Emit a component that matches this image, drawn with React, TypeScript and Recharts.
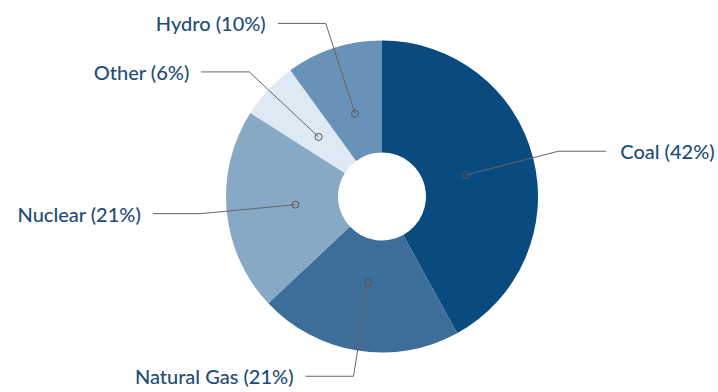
import { PieChart, Pie, Cell } from "recharts";

const sources = ["Coal", "Natural Gas", "Nuclear", "Other", "Hydro"];
const shares = [42, 21, 21, 6, 10];
const colors = ["#0a4b7f", "#3c6e99", "#88a9c5", "#dfe9f3", "#6892b8"];

const data = sources.map((name, i) => ({ name, value: shares[i] }));

const RADIAN = Math.PI / 180;

function renderLabel(props: any) {
  const { cx, cy, midAngle, index } = props;
  const cos = Math.cos(-midAngle * RADIAN);
  const sin = Math.sin(-midAngle * RADIAN);
  const dotR = 87;
  const elbowR = 182;
  const x0 = cx + dotR * cos;
  const y0 = cy + dotR * sin;
  const x1 = cx + elbowR * cos;
  const y1 = cy + elbowR * sin;
  const right = cos >= 0;
  const x2 = x1 + (right ? 48 : -48);
  const tx = x2 + (right ? 14 : -12);
  return (
    <g key={`lbl-${index}`}>
      <polyline
        points={`${x0},${y0} ${x1},${y1} ${x2},${y1}`}
        fill="none"
        stroke="#666"
        strokeWidth={1}
      />
      <circle cx={x0} cy={y0} r={3.5} fill="none" stroke="#555" strokeWidth={1} />
      <text
        x={tx}
        y={y1}
        textAnchor={right ? "start" : "end"}
        dominantBaseline="central"
        fill="#1f4d78"
        fontSize={20}
        fontWeight={500}
        fontFamily="Lato, sans-serif"
      >
        {`${sources[index]} (${shares[index]}%)`}
      </text>
    </g>
  );
}

export default function App() {
  return (
    <div style={{ position: "absolute", left: 0, top: 0, width: 718, height: 392, background: "#fff" }}>
      <PieChart width={718} height={392}>
        <Pie
          data={data}
          dataKey="value"
          cx={377}
          cy={191.5}
          innerRadius={44}
          outerRadius={156}
          startAngle={90}
          endAngle={-270}
          stroke="none"
          label={renderLabel}
          labelLine={false}
          isAnimationActive={false}
        >
          {data.map((d, i) => (
            <Cell key={d.name} fill={colors[i]} />
          ))}
        </Pie>
      </PieChart>
    </div>
  );
}
